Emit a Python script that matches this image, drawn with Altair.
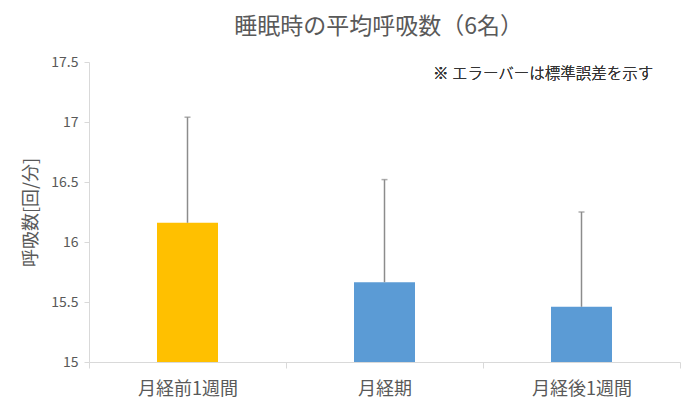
import altair as alt
import pandas as pd

categories = ["月経前1週間", "月経期", "月経後1週間"]
means = [16.16, 15.665, 15.46]
uppers = [17.04, 16.52, 16.25]
colors = ["#FFC000", "#5B9BD5", "#5B9BD5"]
y_ticks = [15, 15.5, 16, 16.5, 17, 17.5]

df = pd.DataFrame({"cat": categories, "mean": means, "upper": uppers, "color": colors})

FONT = "Noto Sans CJK JP"
GRAY = "#595959"

x = alt.X("cat:N", sort=categories, title=None,
          scale=alt.Scale(paddingInner=0, paddingOuter=0),
          axis=alt.Axis(labelAngle=0, labelFontSize=18, labelColor=GRAY, labelFont=FONT,
                        labelPadding=12, domainColor="#D9D9D9", tickColor="#D9D9D9",
                        tickSize=6, tickBand="extent", grid=False))
y_scale = alt.Scale(domain=[15, 17.5], nice=False, zero=False)
y = alt.Y("mean:Q", scale=y_scale, title="呼吸数[回/分]",
          axis=alt.Axis(values=y_ticks, grid=False, labelExpr="toString(datum.value)",
                        labelFontSize=14, labelColor=GRAY, labelFont=FONT, labelPadding=6,
                        titleFontSize=18, titleColor=GRAY, titleFont=FONT, titleFontWeight="normal",
                        titlePadding=10, domainColor="#D9D9D9", tickColor="#D9D9D9", tickSize=5))

bars = alt.Chart(df).mark_bar(size=61).encode(
    x=x, y=y, y2=alt.datum(15),
    color=alt.Color("color:N", scale=None, legend=None),
)

rule = alt.Chart(df).mark_rule(color="#8C8C8C", strokeWidth=1.5).encode(
    x=alt.X("cat:N", sort=categories),
    y=alt.Y("mean:Q", scale=y_scale),
    y2="upper:Q",
)
cap = alt.Chart(df).mark_tick(color="#8C8C8C", size=6, thickness=1.5).encode(
    x=alt.X("cat:N", sort=categories),
    y=alt.Y("upper:Q", scale=y_scale),
)

note = alt.Chart(df).mark_text(text="※ エラーバーは標準誤差を示す", font=FONT, fontSize=15.5,
                               fontWeight=300, color="#333333", align="left",
                               baseline="middle").encode(
    x=alt.value(344), y=alt.value(12)
)

chart = alt.layer(bars, rule, cap, note).properties(
    width=591, height=300,
    padding={"left": 81, "top": 54, "right": 2, "bottom": 44},
    autosize=alt.AutoSizeParams(type="none"),
    title=alt.TitleParams("睡眠時の平均呼吸数（6名）", font=FONT, fontSize=23, color=GRAY,
                          fontWeight="normal", anchor="middle", dx=-6, offset=16),
).configure_view(stroke=None)

chart.save("out.html", embed_options={"renderer": "svg", "actions": False})
